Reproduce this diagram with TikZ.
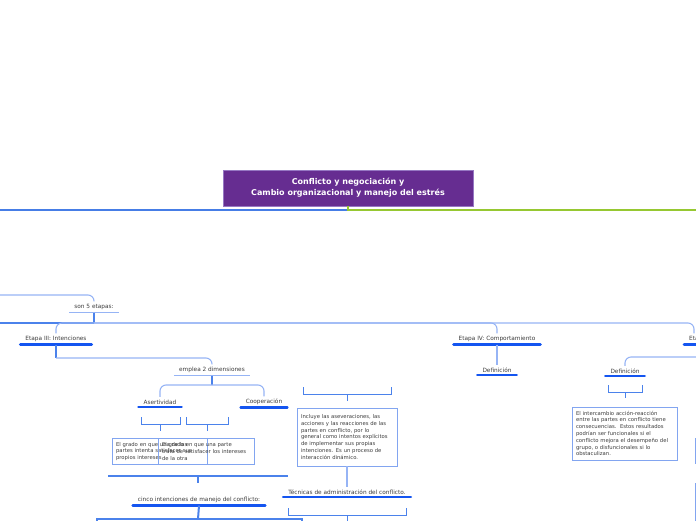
\documentclass[tikz,border=0pt]{standalone}
\usepackage{fontspec}
\setmainfont{DejaVu Sans}
\usetikzlibrary{calc}
\definecolor{titulo}{RGB}{102,45,145}
\definecolor{bordetitulo}{RGB}{150,120,195}
\definecolor{azul}{RGB}{70,125,230}
\definecolor{verde}{RGB}{150,200,50}
\definecolor{fuerte}{RGB}{20,85,240}
\definecolor{medio}{RGB}{75,130,235}
\definecolor{claro}{RGB}{150,180,245}
\definecolor{cajaazul}{RGB}{130,165,240}
\definecolor{texto}{RGB}{60,60,60}
% corchete bajo un tema: centro, media anchura, largo del tallo
\newcommand{\corchete}[3]{%
  \draw[corch] ($(#1)+(-#2,0)$) -- ++(0,7) -- ++(2*#2,0) -- ++(0,-7);
  \draw[corch] ($(#1)+(0,7)$) -- ++(0,#3);}

\begin{document}
\begin{tikzpicture}[x=1pt,y=-1pt,
  tema/.style={font=\fontsize{5.8}{7}\selectfont, text=texto, inner xsep=5pt, inner ysep=2.6pt,
    append after command={(\tikzlastnode.south west) edge[draw=fuerte, line width=2.6pt, line cap=round] (\tikzlastnode.south east)}},
  subtema/.style={font=\fontsize{5.8}{7}\selectfont, text=texto, inner xsep=5pt, inner ysep=2.6pt,
    append after command={(\tikzlastnode.south west) edge[draw=claro, line width=1.2pt] (\tikzlastnode.south east)}},
  caja/.style={draw=cajaazul, line width=0.8pt, font=\fontsize{5.3}{6.8}\selectfont, text=texto,
    align=left, inner xsep=4pt, inner ysep=4pt},
  rama/.style={draw=claro, line width=1.1pt, rounded corners=6pt},
  tronco/.style={draw=medio, line width=1.1pt},
  tallo/.style={draw=medio, line width=2pt},
  corch/.style={draw=medio, line width=1pt}]
\useasboundingbox (0,0) rectangle (696,520);
\clip (0,0) rectangle (696,520);

% titulo y lineas principales
\node[draw=bordetitulo, fill=titulo, text=white, font=\bfseries\fontsize{8}{11}\selectfont, align=center,
  minimum width=250pt, minimum height=36pt] (titulo) at (348,188)
  {Conflicto y negociación y\\Cambio organizacional y manejo del estrés};
\coordinate (izq) at (0,210);
\coordinate (der) at (696,210);
\draw[azul, line width=1.5pt] (titulo.south) |- (izq);
\draw[verde, line width=1.5pt] (titulo.south) |- (der);

% etapas
\coordinate (bordeA) at (0,295);
\node[subtema] (etapas) at (94,307) {son 5 etapas:};
\draw[rama] (bordeA) -| (etapas.north);
\coordinate (t5) at (94,323);
\coordinate (bordeB) at (0,323);
\draw[tallo] (etapas.south) -- (t5);
\draw[tronco] (t5) -- (bordeB);

\node[tema] (e3) at (56,339) {Etapa III: Intenciones};
\node[tema] (e4) at (497,339) {Etapa IV: Comportamiento};
\node[tema, anchor=west] (e5) at (684,339) {Etapa V: Resultados};
\draw[rama] (t5) -| (e3.north);
\draw[rama] (t5) -| (e4.north);
\draw[rama] (t5) -| ($(e5.north west)+(10,0)$);

% etapa III
\node[subtema] (dim) at (212,370) {emplea 2 dimensiones};
\coordinate (c1) at (56,358);
\draw[tronco] (e3.south) -- (c1);
\draw[rama] (c1) -| (dim.north);
\node[tema] (asert) at (160,402) {Asertividad};
\node[tema] (coop) at (264,402) {Cooperación};
\coordinate (c2) at (212,385);
\draw[tronco] (dim.south) -- (c2);
\draw[rama] (c2) -| (asert.north);
\draw[rama] (c2) -| (coop.north);

\coordinate (k1) at (160.5,417);
\coordinate (k2) at (207,417);
\corchete{k1}{19.5}{7}
\corchete{k2}{21}{7}
\node[caja, text width=87pt, minimum height=25pt] (def1a) at (159.5,451.5)
  {El grado en que una de las\\partes intenta satisfacer sus\\propios intereses};
\node[caja, text width=88pt, minimum height=25pt] (def1b) at (206,451.5)
  {El grado en que una parte\\trata de satisfacer los intereses\\de la otra};

\coordinate (l1) at (108,476);
\coordinate (l2) at (288,476);
\draw[tronco] (l1) -- (l2);
\draw[tronco] (198,476) -- (198,483);
\node[tema] (cinco) at (199,500) {cinco intenciones de manejo del conflicto:};
\coordinate (c3) at (198,519);
\draw[tallo] (cinco.south) -- (c3);
\draw[tronco] (97,530) |- (302,519) -- (302,530);

% etapa IV
\coordinate (k3) at (347,387);
\corchete{k3}{44}{7}
\node[caja, text width=92pt, minimum height=58pt] (comp) at (347,437)
  {Incluye las aseveraciones, las\\acciones y las reacciones de las\\partes en conflicto, por lo\\general como intentos explícitos\\de implementar sus propias\\intenciones. Es un proceso de\\interacción dinámico.};
\node[tema] (tec) at (347,492) {Técnicas de administración del conflicto.};
\draw[rama] (comp.south) -- (tec.north);
\coordinate (k5) at (347,508);
\corchete{k5}{59}{14}

\node[tema] (def2) at (497,370) {Definición};
\draw[rama] (e4.south) -- (def2.north);

% etapa V
\coordinate (bordeC) at (696,357);
\node[tema] (def3) at (625,371) {Definición};
\draw[rama] (bordeC) -| (def3.north);
\coordinate (k4) at (625,385);
\corchete{k4}{17}{6}
\node[caja, text width=97pt, minimum height=51pt] (res) at (624.5,433.5)
  {El intercambio acción-reacción\\entre las partes en conflicto tiene\\consecuencias.\ \ Estos resultados\\podrían ser funcionales si el\\conflicto mejora el desempeño del\\grupo, o disfuncionales si lo\\obstaculizan.};
\draw[draw=cajaazul, line width=0.8pt] (695,438) rectangle (780,463);
\draw[draw=cajaazul, line width=0.8pt] (695,483) rectangle (780,560);
\end{tikzpicture}
\end{document}
